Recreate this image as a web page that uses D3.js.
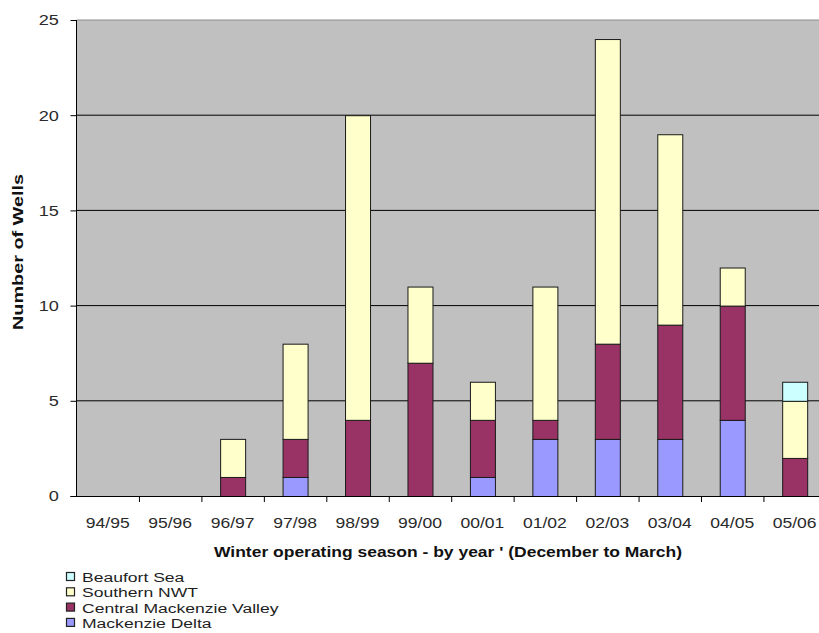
<!DOCTYPE html>
<html><head><meta charset="utf-8">
<script src="https://cdn.jsdelivr.net/npm/d3@7"></script>
<style>body{margin:0;background:#fff;} svg{display:block;font-family:"Liberation Sans",Arial,sans-serif;}</style>
</head><body>
<svg id="c" width="819" height="633"></svg>
<script>
const seasons = ["94/95","95/96","96/97","97/98","98/99","99/00","00/01","01/02","02/03","03/04","04/05","05/06"];
const mackenzieDelta = [0,0,0,1,0,0,1,3,3,3,4,0];
const centralMackenzieValley = [0,0,1,2,4,7,3,1,5,6,6,2];
const southernNWT = [0,0,2,5,16,4,2,7,16,10,2,3];
const beaufortSea = [0,0,0,0,0,0,0,0,0,0,0,1];
const seriesNames = ["Mackenzie Delta","Central Mackenzie Valley","Southern NWT","Beaufort Sea"];
const seriesColors = ["#9999ff","#993366","#ffffcc","#ccffff"];
const yTicks = [0,5,10,15,20,25];

const FONT = "Liberation Sans, Arial, sans-serif";
const svg = d3.select("#c");
const mLeft = 76.5, mTop = 20, mBottom = 496, step = 62.45;
const mRight = mLeft + step*seasons.length;
const x = d3.scaleBand().domain(seasons).range([mLeft, mRight]).paddingInner(0).paddingOuter(0);
const y = d3.scaleLinear().domain([0,25]).range([mBottom, mTop]);
const barW = 25;

// plot background
svg.append("rect").attr("x", mLeft).attr("y", mTop).attr("width", mRight-mLeft).attr("height", mBottom-mTop).attr("fill","#c0c0c0");

// gridlines
svg.append("g").selectAll("line").data(yTicks.filter(d=>d>0)).join("line")
  .attr("x1", mLeft).attr("x2", mRight).attr("y1", d=>y(d)).attr("y2", d=>y(d))
  .attr("stroke", d=> d===25 ? "#8c8c8c" : "#000").attr("stroke-width",1);

// stacked bars
const rows = seasons.map((s,i)=>({season:s, "Mackenzie Delta":mackenzieDelta[i], "Central Mackenzie Valley":centralMackenzieValley[i], "Southern NWT":southernNWT[i], "Beaufort Sea":beaufortSea[i]}));
const stack = d3.stack().keys(seriesNames)(rows);
const color = d3.scaleOrdinal().domain(seriesNames).range(seriesColors);
stack.forEach(layer=>{
  svg.append("g").selectAll("rect").data(layer.filter(d=>d[1]-d[0]>0)).join("rect")
    .attr("x", d=> x(d.data.season) + (x.bandwidth()-barW)/2 + 0.5)
    .attr("y", d=> y(d[1]) + 0.5)
    .attr("width", barW)
    .attr("height", d=> y(d[0]) - y(d[1]))
    .attr("fill", color(layer.key))
    .attr("stroke", "#1a1a1a").attr("stroke-width", 1);
});

// y axis
const yAxis = svg.append("g").attr("transform", `translate(${mLeft},0)`)
  .call(d3.axisLeft(y).tickValues(yTicks).tickSize(6).tickPadding(9));
yAxis.select(".domain").attr("stroke","#000").attr("d", `M0,${mTop}V${mBottom}`);
yAxis.selectAll(".tick line").attr("stroke","#000");
yAxis.selectAll(".tick text").attr("font-size",15.5).attr("fill","#2a2a2a").attr("font-family",FONT)
  .attr("transform","scale(1.17,1)");

// x axis
const xAxis = svg.append("g").attr("transform", `translate(0,${mBottom})`)
  .call(d3.axisBottom(x).tickSize(0).tickPadding(0));
xAxis.select(".domain").attr("stroke","#000").attr("d", `M${mLeft-6},0.5H${mRight}`);
xAxis.selectAll(".tick text").attr("font-size",15).attr("fill","#2a2a2a").attr("font-family",FONT)
  .attr("y", 32).attr("dy", 0).attr("transform","scale(1.17,1)");
// category separator ticks
svg.append("g").selectAll("line").data(seasons.slice(1)).join("line")
  .attr("x1", d=>x(d)+0.5).attr("x2", d=>x(d)+0.5).attr("y1", mBottom).attr("y2", mBottom+6)
  .attr("stroke","#000");

// axis titles
svg.append("text").attr("x", 448).attr("y", 557).attr("text-anchor","middle")
  .attr("font-weight","bold").attr("font-size",15).attr("fill","#111").attr("font-family",FONT)
  .attr("textLength", 468).attr("lengthAdjust","spacingAndGlyphs")
  .text("Winter operating season - by year ' (December to March)");
svg.append("text").attr("transform","translate(23,252) rotate(-90)").attr("text-anchor","middle")
  .attr("font-weight","bold").attr("font-size",15).attr("fill","#111").attr("font-family",FONT)
  .attr("textLength", 156).attr("lengthAdjust","spacingAndGlyphs")
  .text("Number of Wells");

// legend (top-to-bottom reversed order)
const legendOrder = seriesNames.slice().reverse();
const lg = svg.append("g").selectAll("g").data(legendOrder).join("g")
  .attr("transform",(d,i)=>`translate(66,${577 + i*15.3})`);
lg.append("rect").attr("x",0.5).attr("y",-4.5).attr("width",8).attr("height",8)
  .attr("fill", d=>color(d)).attr("stroke","#222").attr("stroke-width",1.2);
lg.append("text").attr("x",0).attr("y",5).attr("font-size",13.5).attr("fill","#1e1e1e").attr("font-family",FONT)
  .attr("transform","translate(16,0) scale(1.3,1)")
  .text(d=>d);
</script>
</body></html>
